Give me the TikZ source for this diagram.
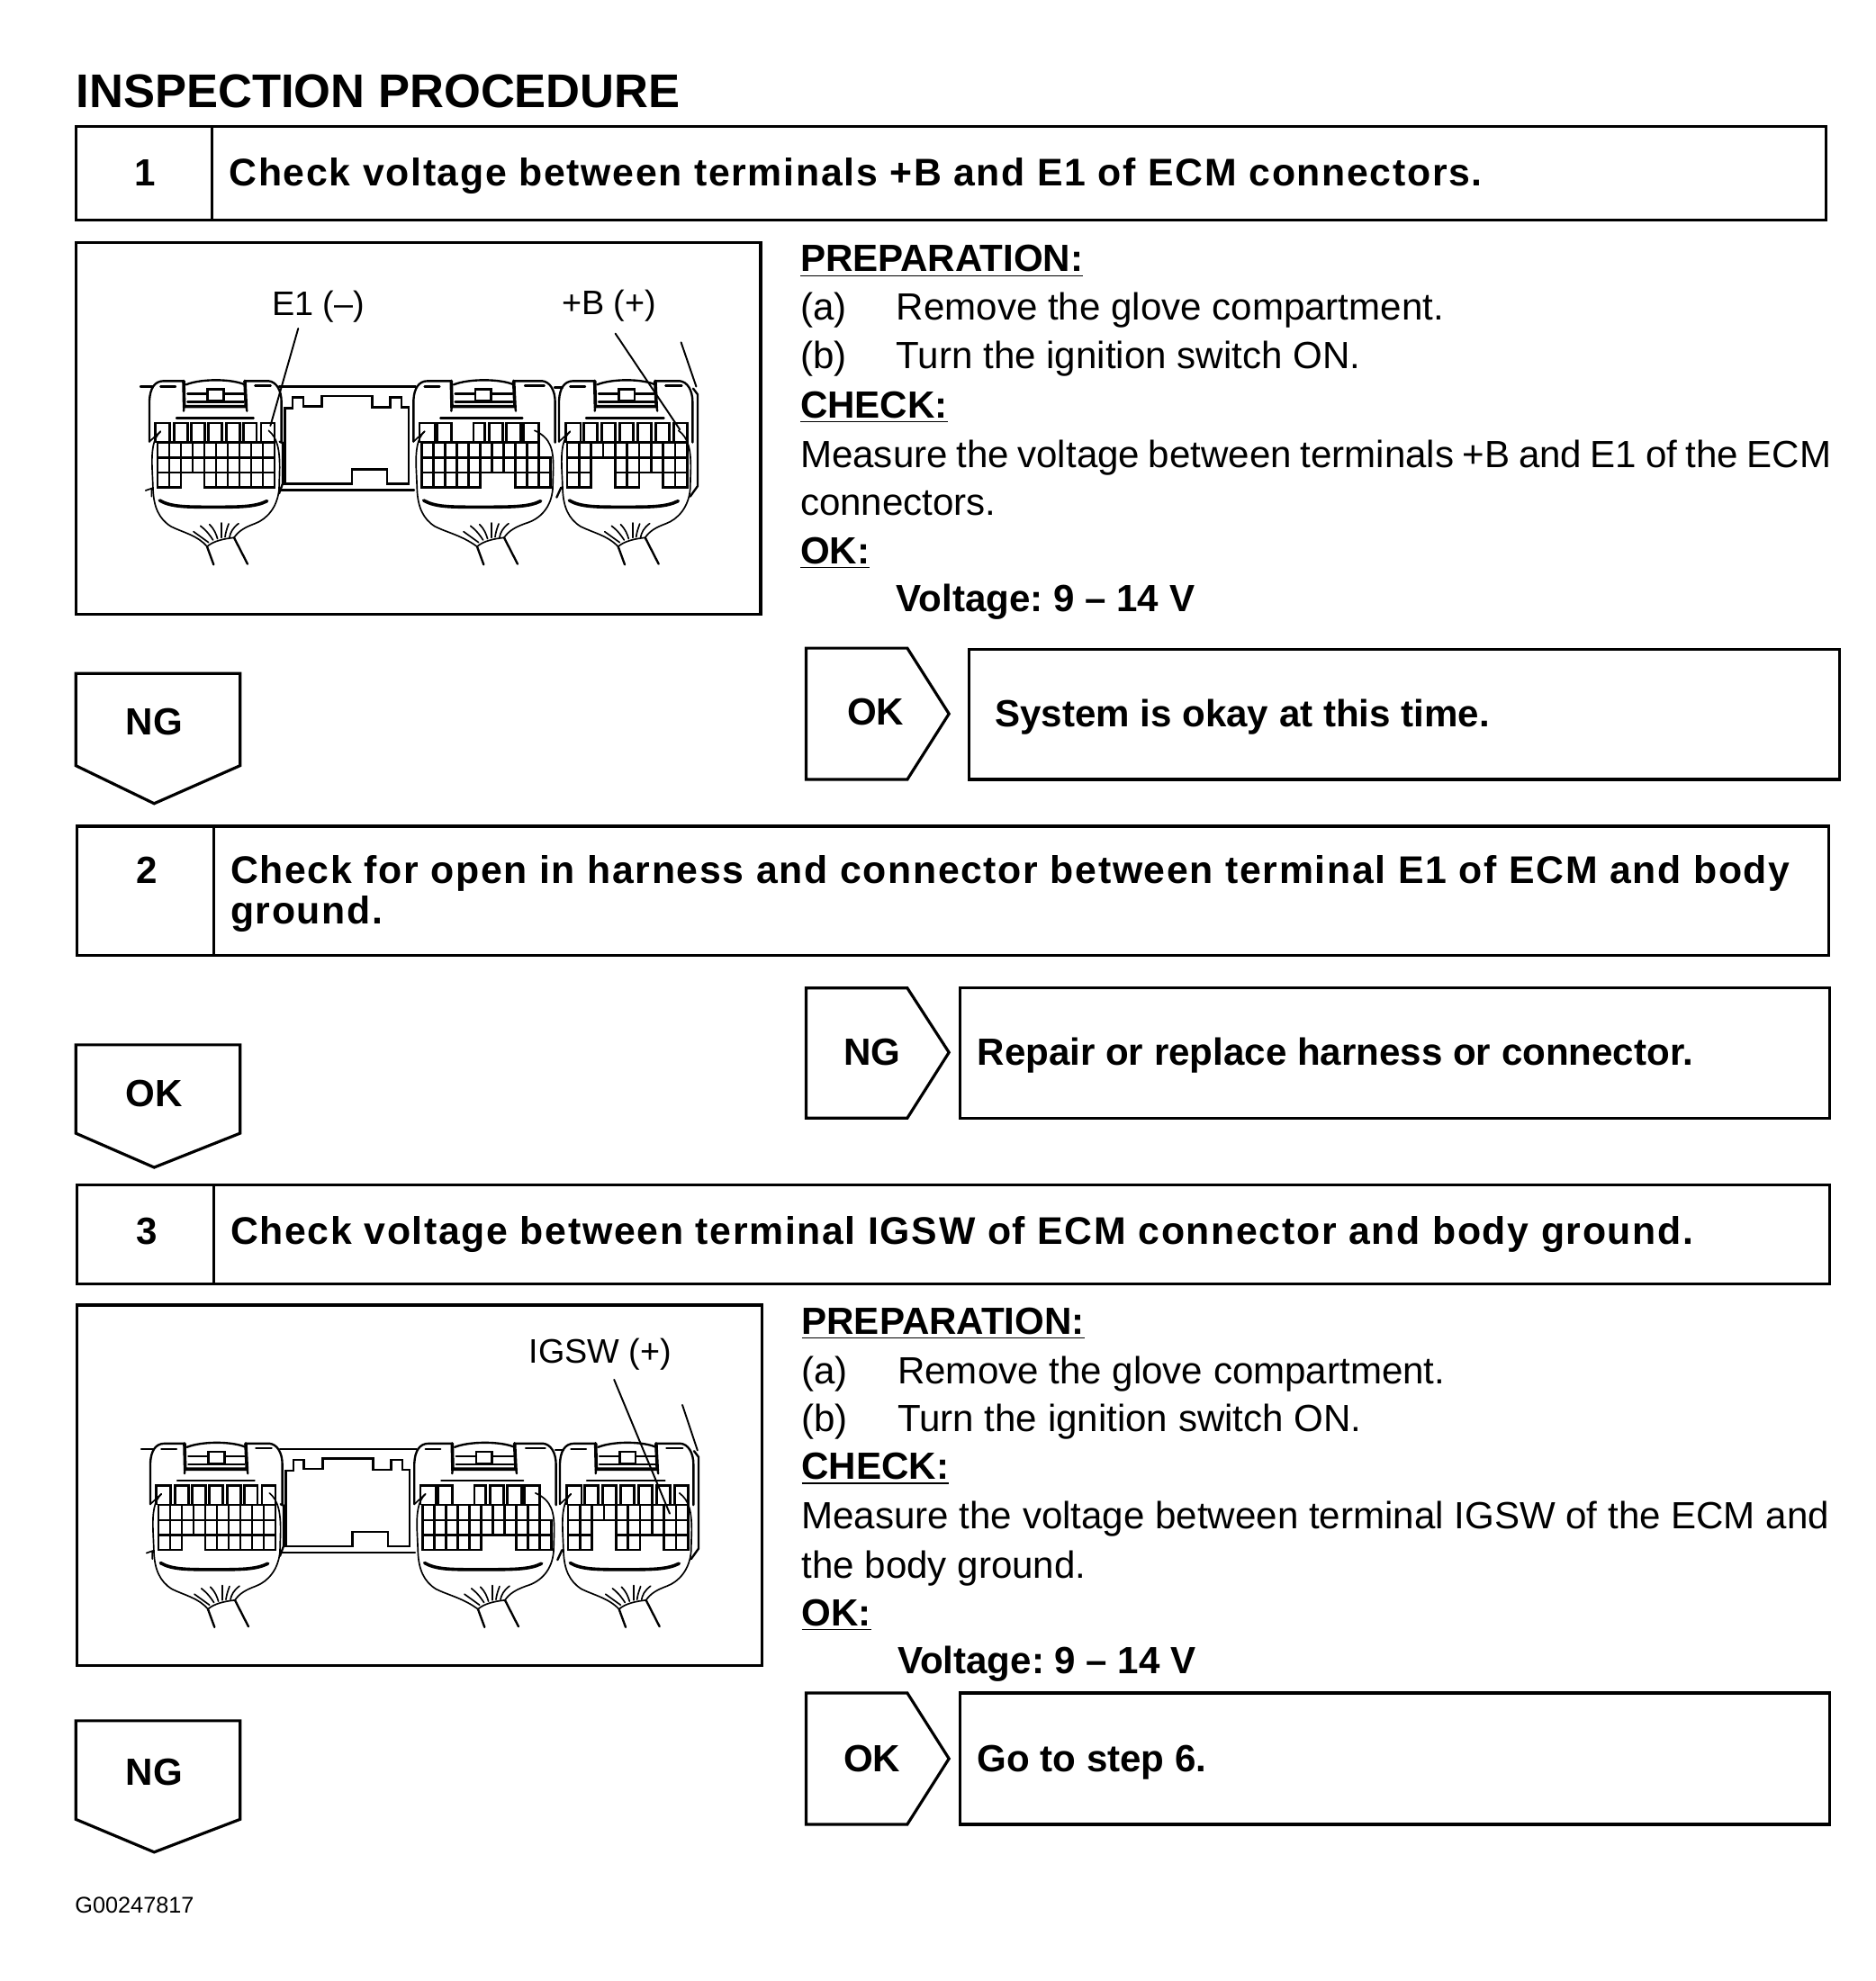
\documentclass[tikz,border=0pt]{standalone}
\usepackage{fontspec}
\setmainfont{Liberation Sans}
\newfontfamily\stepfam[LetterSpace=3.9]{Liberation Sans}
\frenchspacing
\newcommand{\bodyfs}{\fontsize{15.15}{18}\selectfont\frenchspacing}
\newcommand{\boldfs}{\fontsize{15.15}{18}\selectfont\bfseries\frenchspacing}
\newcommand{\stepfs}{\stepfam\fontsize{15.4}{18}\selectfont\bfseries\frenchspacing}
\newcommand{\labelfs}{\fontsize{13.6}{16}\selectfont\frenchspacing}
\newcommand{\titlefs}{\fontsize{18.9}{22}\selectfont\bfseries\frenchspacing}
\tikzset{
  boxline/.style={draw=black,line width=1.15pt,line join=miter},
  tx/.style={anchor=base west,inner sep=0pt,font=\bodyfs},
  bx/.style={anchor=base west,inner sep=0pt,font=\boldfs},
  sx/.style={anchor=base west,inner sep=0pt,font=\stepfs},
  ctr/.style={anchor=base,inner sep=0pt,font=\boldfs},
  lab/.style={anchor=base,inner sep=0pt,font=\labelfs},
  thin line/.style={line width=0.6pt,line cap=round},
  mid line/.style={line width=0.85pt,line cap=round},
  heavy line/.style={line width=1.3pt,line cap=round},
  leader/.style={line width=0.7pt,line cap=round},
  cellbox/.style={draw=black,line width=0.9pt},
}
% one connector body; #1 offset of the right side, #2 offset of the harness, #3 offset of the latch
\newcommand{\connbody}[3]{%
  \def\dr{#1}\def\hs{#2}\def\lx{#3}%
  % left shoulder
  \draw[mid line] (78,272) -- (78,135) .. controls (80,95) and (95,70) .. (125,70) -- ({192+\lx},70);
  \draw[mid line] (115,88) -- (165,88);
  % latch
  \draw[heavy line] ({192+\lx},70) -- ({194+\lx},155) -- ({400+\dr*0.5},155) -- ({396+\dr*0.5},70);
  \draw[mid line] ({192+\lx},170) -- ({194+\lx},150) ({403+\dr*0.5},170) -- ({400+\dr*0.5},150);
  \draw[mid line] ({200+\lx},82) .. controls ({250+\lx},62) and ({350+\dr*0.5},62) .. ({396+\dr*0.5},82);
  \draw[mid line] ({205+\lx},112) -- ({272+\lx},112) ({325+\lx},112) -- ({392+\dr*0.5},112);
  \draw[mid line] ({205+\lx},140) -- ({392+\dr*0.5},140);
  \draw[mid line,fill=white] ({272+\lx},98) rectangle ({325+\lx},137);
  % right shoulder
  \draw[mid line] ({396+\dr*0.5},70) -- ({475+\dr},70) .. controls ({500+\dr},72) and ({518+\dr},100) .. ({518+\dr},140) -- ({518+\dr},275);
  \draw[mid line] ({430+\dr*0.6},86) -- ({482+\dr},86);
  \draw[mid line] (168,194) -- ({425+\dr*0.5},194);
  % hooks and lower contour
  \draw[thin line] (78,272) -- (115,238);
  \draw[thin line] (115,238) .. controls (90,262) and (85,300) .. (87,360) -- (90,430) .. controls (92,490) and (110,530) .. (150,555) .. controls (190,575) and (240,585) .. ({270+\hs},622);
  \draw[thin line] ({475+\dr*0.2},235) .. controls ({505+\dr},260) and ({512+\dr},300) .. ({512+\dr},360) -- ({510+\dr},430) .. controls ({505+\dr},490) and ({470+\dr},530) .. ({430+\hs},545) .. controls ({395+\hs},558) and ({375+\hs},570) .. ({360+\hs},592);
  % bottom bar
  \draw[heavy line] (112,468) .. controls (150,490) and (200,490) .. (290,490) .. controls ({380+\dr},490) and ({430+\dr},490) .. ({470+\dr},470);
  % harness
  \draw[thin line] ({270+\hs},622) .. controls ({290+\hs},603) and ({330+\hs},595) .. ({360+\hs},592);
  \draw[mid line] ({270+\hs},622) -- ({292+\hs},682);
  \draw[mid line] ({360+\hs},592) -- ({405+\hs},680);
  \draw[thin line] ({225+\hs},572) -- ({275+\hs},608);
  \draw[thin line] ({248+\hs},553) .. controls ({270+\hs},570) and ({280+\hs},585) .. ({290+\hs},600);
  \draw[thin line] ({278+\hs},548) .. controls ({295+\hs},565) and ({300+\hs},580) .. ({305+\hs},596);
  \draw[thin line] ({318+\hs},543) -- ({318+\hs},592);
  \draw[thin line] ({342+\hs},546) .. controls ({335+\hs},565) and ({332+\hs},575) .. ({330+\hs},590);
  \draw[thin line] ({375+\hs},545) .. controls ({355+\hs},560) and ({348+\hs},575) .. ({345+\hs},590);
}
% terminals in the row above the grid, open at the bottom
\newcommand{\terms}[1]{%
  \foreach \a/\b in {#1} \draw[cellbox] (\a,275) -- (\a,210) -- (\b,210) -- (\b,275);
}
% grid cells: #1 left edge, #2 cell width, #3 row, #4 columns
\newcommand{\cellrow}[4]{%
  \foreach \c in {#4} \draw[cellbox] ({#1+#2*\c},{275+50*#3}) rectangle ({#1+#2*(\c+1)},{325+50*#3});
}
\newcommand{\illustration}[2]{%
\begin{scope}[shift={(#1,#2)}]
  % connector A with flange and central module
  \begin{scope}[shift={(99.74,284.96)},scale=0.23747]
    \draw[mid line] (48,88) -- (90,88);
    \draw[mid line] (510,88) -- (965,88) (515,433) -- (960,433);
    \draw[mid line] (510,445) -- (522,412) -- (522,275) (512,272) -- (518,275);
    \draw[thin line] (65,435) -- (85,428) -- (85,455);
    \draw[mid line] (530,160) -- (555,160) -- (555,125) -- (590,125) -- (590,155) -- (652,155) -- (652,120) -- (820,120) -- (820,158) -- (880,158) -- (880,125) -- (918,125) -- (918,158) -- (942,158) -- (942,412) -- (870,412) -- (870,365) -- (752,365) -- (752,412) -- (530,412) -- cycle;
    \connbody{0}{0}{0}
    \terms{98/145,160/205,218/262,275/320,335/380,392/435,450/495}
    \cellrow{105}{39}{0}{0,...,9}
    \cellrow{105}{39}{1}{0,...,9}
    \cellrow{105}{39}{2}{0,1,4,5,6,7,8,9}
  \end{scope}
  % connector B
  \begin{scope}[shift={(308.7,284.96)},scale=0.23747]
    \connbody{32}{20}{12}
    \draw[mid line] (548,92) -- (575,92);
    \draw[mid line] (555,458) -- (570,425);
    \terms{98/150,158/205,278/315,330/375,388/435,445/495}
    \cellrow{105}{39}{0}{0,...,9}
    \cellrow{105}{39}{1}{0,...,10}
    \cellrow{105}{39}{2}{0,1,2,3,4,8,9,10}
  \end{scope}
  % connector C
  \begin{scope}[shift={(423.9,284.96)},scale=0.23747]
    \connbody{5}{5}{5}
    \draw[mid line] (525,95) -- (540,115) -- (540,420) -- (515,455);
    \terms{100/150,160/205,220/265,280/325,340/385,400/445,460/505}
    \cellrow{105}{40}{0}{0,...,9}
    \cellrow{105}{40}{1}{0,1,4,5,6,7,8,9}
    \cellrow{105}{40}{2}{0,1,4,5,8,9}
  \end{scope}
\end{scope}
}
\begin{document}
\begin{tikzpicture}[x=0.5053pt,y=-0.5053pt]
\useasboundingbox[fill=white] (0,0) rectangle (1484,1568);

\node[anchor=base west,inner sep=0pt,font=\titlefs] (title) at (60,85) {INSPECTION PROCEDURE};

% step 1
\draw[boxline] (60,100) rectangle (1445,174) (168,100) -- (168,174);
\node[ctr] (n1) at (115,147) {1};
\node[sx] (s1) at (181,147) {Check voltage between terminals +B and E1 of ECM connectors.};

% illustration 1
\draw[boxline] (60,192) rectangle (602,486);
\illustration{0}{0}
\node[lab] (e1) at (252,250) {E1 (–)};
\node[lab] (bp) at (482,249) {+B (+)};
\coordinate (e1a) at (236,260); \coordinate (e1b) at (214,337);
\coordinate (bpa) at (487,264); \coordinate (bpb) at (538,340);
\coordinate (bqa) at (539,271); \coordinate (bqb) at (551,306);
\draw[leader] (e1a) -- (e1b);
\draw[leader] (bpa) -- (bpb);
\draw[leader] (bqa) -- (bqb);

% text 1
\node[bx] (p1) at (633,215) {\underline{PREPARATION:}};
\node[tx] (a1) at (633,253) {(a)};
\node[tx] (a1t) at (709,253) {Remove the glove compartment.};
\node[tx] (b1) at (633,292) {(b)};
\node[tx] (b1t) at (709,292) {Turn the ignition switch ON.};
\node[bx] (c1) at (633,331) {\underline{CHECK:}};
\node[tx,font={\bodyfs\spaceskip=3.46pt\relax}] (m1) at (633,370) {Measure the voltage between terminals +B and E1 of the ECM};
\node[tx] (m1b) at (633,408) {connectors.};
\node[bx] (o1) at (633,446) {\underline{OK:}};
\node[bx] (v1) at (709,484) {Voltage: 9 – 14 V};

% results 1
\draw[boxline] (60,533) -- (190,533) -- (190,606) -- (122,636) -- (60,606) -- cycle;
\node[ctr] (ng1) at (122,582) {NG};
\draw[boxline] (638,513) -- (718,513) -- (751,565) -- (718,617) -- (638,617) -- cycle;
\node[ctr] (ok1) at (693,574) {OK};
\draw[boxline] (767,514) rectangle (1456,617);
\node[bx] (r1) at (787,575) {System is okay at this time.};

% step 2
\draw[boxline] (61,654) rectangle (1447,756) (169,654) -- (169,756);
\node[ctr] (n2) at (116,699) {2};
\node[sx] (s2) at (182,699) {Check for open in harness and connector between terminal E1 of ECM and body};
\node[sx] (s2b) at (182,731) {ground.};

\draw[boxline] (60,827) -- (190,827) -- (190,897) -- (122,924) -- (60,897) -- cycle;
\node[ctr] (ok2) at (122,876) {OK};
\draw[boxline] (638,782) -- (718,782) -- (751,833) -- (718,885) -- (638,885) -- cycle;
\node[ctr] (ng2) at (690,843) {NG};
\draw[boxline] (760,782) rectangle (1448,885);
\node[bx] (r2) at (773,843) {Repair or replace harness or connector.};

% step 3
\draw[boxline] (61,938) rectangle (1448,1016) (169,938) -- (169,1016);
\node[ctr] (n3) at (116,985) {3};
\node[sx] (s3) at (182,985) {Check voltage between terminal IGSW of ECM connector and body ground.};

% illustration 2
\draw[boxline] (61,1033) rectangle (603,1318);
\illustration{0.7}{841}
\node[lab] (ig) at (475,1079) {IGSW (+)};
\coordinate (iga) at (486,1092); \coordinate (igb) at (530,1198);
\coordinate (iqa) at (540,1112); \coordinate (iqb) at (552,1148);
\draw[leader] (iga) -- (igb);
\draw[leader] (iqa) -- (iqb);

% text 3
\node[bx] (p3) at (634,1056) {\underline{PREPARATION:}};
\node[tx] (a3) at (634,1095) {(a)};
\node[tx] (a3t) at (710,1095) {Remove the glove compartment.};
\node[tx] (b3) at (634,1133) {(b)};
\node[tx] (b3t) at (710,1133) {Turn the ignition switch ON.};
\node[bx] (c3) at (634,1171) {\underline{CHECK:}};
\node[tx] (m3) at (634,1210) {Measure the voltage between terminal IGSW of the ECM and};
\node[tx] (m3b) at (634,1249) {the body ground.};
\node[bx] (o3) at (634,1287) {\underline{OK:}};
\node[bx] (v3) at (710,1325) {Voltage: 9 – 14 V};

% results 3
\draw[boxline] (60,1362) -- (190,1362) -- (190,1440) -- (122,1466) -- (60,1440) -- cycle;
\node[ctr] (ng3) at (122,1413) {NG};
\draw[boxline] (638,1340) -- (718,1340) -- (751,1392) -- (718,1444) -- (638,1444) -- cycle;
\node[ctr] (ok3) at (690,1402) {OK};
\draw[boxline] (760,1340) rectangle (1448,1444);
\node[bx] (r3) at (773,1402) {Go to step 6.};

\node[anchor=base west,inner sep=0pt,font=\fontsize{9.1}{11}\selectfont] (code) at (59,1514) {G00247817};
\end{tikzpicture}
\end{document}
